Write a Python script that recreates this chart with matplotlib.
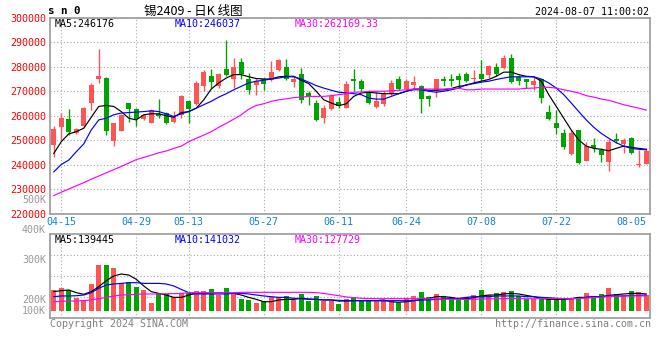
import matplotlib
matplotlib.use('Agg')
import matplotlib.pyplot as plt

# sn0 (tin 2409) daily candles, 80 sessions from 04-12 to 08-07
opens = [247900, 255200, 258500, 252700, 255700, 265300, 274900, 275300, 249700, 253800,
         265100, 262600, 258500, 257100, 260700, 260900, 257500, 260300, 266000, 264800,
         271900, 276300, 272200, 278800, 274900, 281800, 274900, 272300, 274900, 274400,
         278500, 279900, 273600, 277100, 269200, 265100, 258900, 262600, 265500, 263000,
         274900, 274200, 269900, 263300, 264800, 268900, 274900, 270800, 272600, 272200,
         268100, 269900, 274900, 274900, 276300, 277100, 274900, 277100, 276700, 279700,
         279500, 283600, 275800, 274700, 272600, 274700, 261600, 257100, 252700, 244200,
         254100, 241500, 247900, 245900, 241100, 250400, 248400, 251000, 239700, 240400]
highs = [255800, 261200, 262700, 254800, 263300, 273300, 287000, 275600, 257000, 260600,
         265100, 263000, 260700, 262600, 266700, 261600, 261900, 268500, 266100, 274000,
         278500, 278800, 277400, 290700, 283600, 283600, 277400, 275300, 275300, 282200,
         282900, 282900, 276300, 279500, 269900, 266400, 264400, 268900, 267500, 274000,
         278800, 274900, 270300, 269500, 269900, 274400, 276000, 274900, 276000, 272600,
         268500, 274900, 276300, 277100, 277300, 277800, 278400, 282500, 280800, 281500,
         284700, 284900, 276700, 274700, 275600, 275000, 264400, 262100, 254400, 254100,
         254100, 249300, 250700, 246600, 250300, 252700, 250700, 251400, 245900, 246600]
lows = [243200, 250000, 252000, 252500, 255500, 262300, 273300, 252000, 247500, 253500,
        257500, 255700, 258200, 256800, 258800, 256500, 257100, 258900, 257100, 264400,
        269900, 271200, 271200, 276000, 271200, 274900, 268900, 268500, 270300, 274000,
        278100, 274400, 271600, 265100, 264400, 257800, 257100, 262300, 263000, 263000,
        269900, 269900, 264800, 263000, 263700, 268500, 270500, 270500, 271200, 261200,
        264000, 267500, 272200, 272200, 272200, 273600, 273600, 274000, 275300, 276000,
        279100, 273300, 272600, 271200, 270500, 265100, 258200, 252500, 246200, 243800,
        240100, 241500, 245200, 241100, 237400, 248900, 244800, 244200, 238800, 240400]
closes = [254400, 258900, 253400, 254500, 263000, 272600, 276300, 253800, 256800, 260300,
          262700, 258500, 260300, 262300, 259600, 257100, 259300, 268100, 262700, 273300,
          277700, 273600, 277100, 276700, 279900, 277100, 270300, 274000, 272900, 277700,
          282500, 274900, 274900, 266400, 268100, 258200, 263000, 267800, 264000, 273000,
          274000, 270800, 265100, 266000, 269200, 273300, 270800, 274000, 273600, 266800,
          266800, 274700, 274000, 274000, 274400, 274000, 275300, 274700, 280100, 277100,
          283300, 273600, 274000, 273600, 274000, 267100, 258500, 254800, 247000, 252700,
          240700, 247500, 246600, 243800, 249300, 249700, 250000, 244500, 240400, 245500]

ma5 = [244500, 249300, 252500, 253400, 254800, 259300, 263700, 264100, 263700, 261600,
       258900, 258200, 260300, 260700, 260700, 259900, 259300, 261200, 261600, 263000,
       266400, 270800, 273300, 275300, 276700, 276700, 275800, 275100, 274900, 274900,
       275800, 276000, 276000, 274400, 273000, 269900, 266400, 265100, 264000, 264800,
       267800, 269200, 269500, 269200, 268900, 268900, 268900, 269900, 270800, 270800,
       270300, 270300, 270500, 271000, 271900, 272300, 273300, 274000, 274700, 276000,
       277700, 277700, 276700, 276000, 275800, 274000, 268500, 263700, 258900, 254100,
       250000, 247500, 246600, 246200, 245600, 246600, 247500, 247000, 246600, 246200]
ma10 = [237000, 240000, 241800, 245200, 248400, 254100, 258200, 258900, 260300, 261000,
        261200, 261400, 261600, 261900, 261600, 260700, 259600, 260700, 261600, 263000,
        264400, 265800, 267500, 268900, 270500, 271900, 273300, 274000, 274400, 274900,
        275300, 275800, 275800, 274900, 273600, 272200, 271200, 270300, 269500, 269200,
        268900, 268500, 267100, 266700, 266700, 267800, 268900, 269900, 270500, 270500,
        269900, 269500, 269900, 270500, 271200, 272600, 273000, 273600, 274000, 274700,
        275300, 275800, 275800, 275800, 275800, 274900, 273300, 271200, 268500, 265100,
        261600, 258200, 255200, 252700, 250700, 248900, 247500, 246600, 246200, 246000]
ma30 = [227300, 228700, 230000, 231300, 232600, 234000, 235300, 236600, 237900, 239200,
        240600, 242000, 242900, 243800, 244800, 245500, 246600, 247500, 249300, 250700,
        252000, 253400, 255200, 256800, 258500, 260300, 262600, 264100, 264800, 265800,
        266400, 266800, 267300, 267500, 267800, 267800, 267800, 268100, 268500, 268900,
        269500, 269600, 269800, 269900, 269900, 270100, 270300, 270500, 270800, 270800,
        270800, 270800, 270800, 271000, 271100, 270500, 270500, 270800, 270800, 270800,
        270800, 270800, 270800, 271100, 271200, 271500, 271500, 271200, 270500, 269900,
        269200, 268100, 267500, 266700, 266200, 265300, 264400, 263700, 263000, 262200]

# volume, thousand lots
volumes = [179, 196, 179, 111, 94, 230, 392, 392, 363, 241,
           247, 204, 179, 71, 150, 145, 116, 150, 156, 170,
           167, 187, 136, 196, 159, 102, 94, 71, 82, 116,
           116, 128, 94, 145, 88, 128, 88, 88, 60, 99,
           116, 85, 85, 85, 85, 85, 71, 111, 128, 162,
           119, 145, 125, 116, 111, 116, 136, 179, 136, 153,
           162, 170, 128, 99, 102, 116, 105, 113, 105, 111,
           116, 153, 128, 145, 196, 145, 133, 170, 162, 133]
vol_ma5 = [165, 173, 179, 156, 142, 165, 207, 258, 298, 315,
           306, 270, 213, 165, 150, 136, 116, 116, 136, 150,
           150, 156, 156, 156, 150, 136, 116, 99, 79, 79,
           94, 99, 99, 108, 102, 99, 94, 94, 85, 85,
           88, 88, 88, 88, 94, 79, 74, 79, 88, 99,
           108, 122, 122, 116, 102, 105, 113, 128, 136, 136,
           145, 150, 145, 133, 122, 108, 99, 99, 99, 105,
           116, 116, 122, 122, 133, 139, 145, 150, 150, 145]
vol_ma10 = [122, 128, 128, 130, 136, 156, 193, 221, 230, 235,
            241, 241, 235, 235, 235, 230, 213, 184, 156, 145,
            145, 145, 145, 145, 150, 150, 145, 136, 128, 122,
            116, 116, 108, 105, 99, 99, 94, 94, 91, 88,
            88, 88, 88, 88, 85, 88, 88, 88, 88, 94,
            94, 99, 105, 108, 108, 116, 122, 122, 122, 128,
            128, 128, 128, 122, 122, 116, 113, 108, 105, 105,
            108, 116, 122, 122, 128, 128, 128, 133, 133, 136]
vol_ma30 = [79, 82, 85, 85, 88, 94, 105, 116, 128, 136,
            139, 142, 145, 145, 145, 147, 148, 150, 156, 156,
            156, 156, 156, 156, 156, 159, 159, 159, 159, 159,
            159, 159, 159, 159, 159, 156, 150, 140, 130, 120,
            113, 108, 106, 105, 105, 105, 105, 105, 105, 105,
            105, 102, 101, 100, 99, 99, 100, 102, 103, 104,
            105, 105, 105, 104, 104, 106, 107, 106, 105, 105,
            106, 110, 114, 118, 122, 126, 127, 128, 128, 128]

date_labels = ['04-15', '04-29', '05-13', '05-27', '06-11', '06-24', '07-08', '07-22', '08-05']
date_idx = [1, 11, 18, 28, 38, 47, 57, 67, 77]
price_ticks = [220000, 230000, 240000, 250000, 260000, 270000, 280000, 290000, 300000]
vol_labels = ['400K', '300K', '200K', '100K']

RED = '#ff5454'
GREEN = '#00a400'
GRID = '#a8a8a8'
BORDER = '#9a9a9a'
MONO = 'DejaVu Sans Mono'
CJK = ['Noto Sans CJK SC', 'DejaVu Sans']
FS = 7.2
LW = 0.85

plt.rcParams['font.family'] = [MONO]

W, H = 660, 360
fig = plt.figure(figsize=(6.6, 3.6), dpi=100)
ax = fig.add_axes([50 / W, (H - 214) / H, 600 / W, 196.5 / H])
vax = fig.add_axes([50 / W, (H - 317.5) / H, 600 / W, 83.5 / H])

x = list(range(len(closes)))
colors = [RED if c >= o else GREEN for o, c in zip(opens, closes)]


def style_box(a):
    for s in a.spines.values():
        s.set_color(BORDER)
        s.set_linewidth(1.2)
    a.set_xlim(-0.5, len(closes) - 0.5)
    for i in date_idx[:-1]:
        a.axvline(i, color=GRID, lw=0.8, ls=(0, (1, 2)), zorder=0)


# price panel
style_box(ax)
ax.set_ylim(219800, 300000)
ax.set_yticks(price_ticks)
ax.set_yticklabels([str(p) for p in price_ticks])
ax.yaxis.grid(True, color=GRID, lw=0.8, ls=(0, (1, 2)))
ax.set_axisbelow(True)
ax.tick_params(axis='y', length=0, pad=3, labelcolor='red', labelsize=FS)
ax.set_xticks(date_idx)
ax.set_xticklabels(date_labels)
ax.tick_params(axis='x', length=0, pad=2.5, labelcolor='#1480cc', labelsize=FS)

ax.vlines(x, lows, highs, colors=colors, lw=1.0, zorder=2)
bodies = [max(abs(c - o), 350) for o, c in zip(opens, closes)]
ax.bar(x, bodies, bottom=[min(o, c) for o, c in zip(opens, closes)],
       width=0.72, color=colors, zorder=3)
ax.plot(x, ma5, color='black', lw=LW, zorder=4)
ax.plot(x, ma10, color='#0000ff', lw=LW, zorder=4)
ax.plot(x, ma30, color='#ff00ff', lw=LW, zorder=4)

ax.text(5 / 600, 0.967, 'MA5:246176', transform=ax.transAxes, color='black',
        fontsize=FS, va='center', ha='left')
ax.text(125 / 600, 0.967, 'MA10:246037', transform=ax.transAxes, color='#0000ff',
        fontsize=FS, va='center', ha='left')
ax.text(245 / 600, 0.967, 'MA30:262169.33', transform=ax.transAxes, color='#ff00ff',
        fontsize=FS, va='center', ha='left')

# volume panel
style_box(vax)
vlo, vhi = -55.3, 655.3
vax.set_ylim(vlo, vhi)
vax.set_yticks([])
vax.set_xticks([])
for f in (0.25, 0.5, 0.75):
    vax.axhline(vlo + f * (vhi - vlo), color=GRID, lw=0.8, ls=(0, (1, 2)), zorder=0)
vax.bar(x, volumes, width=0.72, color=colors, zorder=2)
vax.plot(x, vol_ma5, color='black', lw=LW, zorder=3)
vax.plot(x, vol_ma10, color='#0000ff', lw=LW, zorder=3)
vax.plot(x, vol_ma30, color='#ff00ff', lw=LW, zorder=3)

for lab, yf in zip(vol_labels, [1.048, 0.689, 0.21, 0.078]):
    vax.text(-4 / 600, yf, lab, transform=vax.transAxes, color='#999999',
             fontsize=FS, ha='right', va='center')
fig.text(46 / W, 1 - 200 / H, '500K', color='#999999', fontsize=FS, ha='right', va='center')

vax.text(5 / 600, 0.928, 'MA5:139445', transform=vax.transAxes, color='black',
         fontsize=FS, va='center', ha='left')
vax.text(125 / 600, 0.928, 'MA10:141032', transform=vax.transAxes, color='#0000ff',
         fontsize=FS, va='center', ha='left')
vax.text(245 / 600, 0.928, 'MA30:127729', transform=vax.transAxes, color='#ff00ff',
         fontsize=FS, va='center', ha='left')

# header / footer
fig.text(48 / W, 1 - 11 / H, 's n 0', fontsize=7.8, fontweight='bold', ha='left', va='center')
fig.text(193 / W, 1 - 11 / H, '锡2409 - 日K 线图', family=CJK, fontsize=9, ha='center', va='center')
fig.text(649 / W, 1 - 12 / H, '2024-08-07 11:00:02', fontsize=FS, ha='right', va='center')
fig.text(50 / W, 1 - 324 / H, 'Copyright 2024 SINA.COM', color='#808080', fontsize=FS,
         ha='left', va='center')
fig.text(651 / W, 1 - 324 / H, 'http://finance.sina.com.cn', color='#808080', fontsize=FS,
         ha='right', va='center')

fig.savefig('out.png', dpi=100, facecolor='white')
